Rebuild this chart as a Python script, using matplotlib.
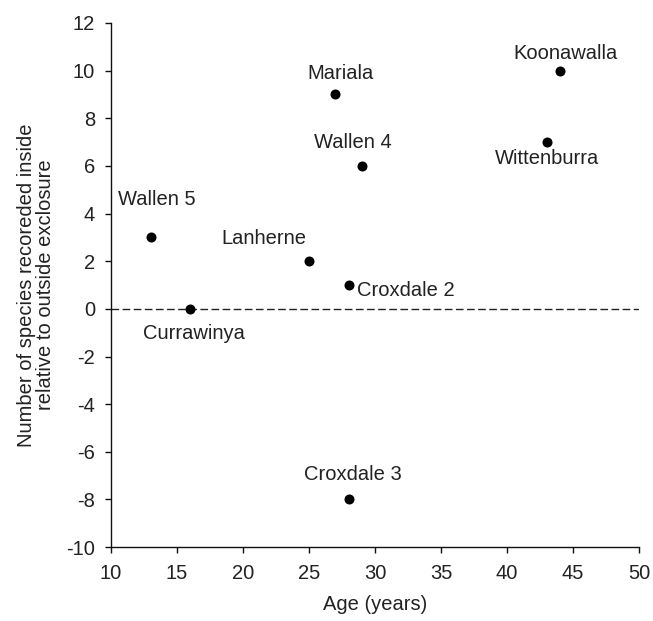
import numpy as np
import matplotlib
matplotlib.use("Agg")
import matplotlib.pyplot as plt

plt.rcParams['font.family'] = ['Liberation Sans', 'DejaVu Sans']
plt.rcParams['axes.unicode_minus'] = False

# sites, age (years) and species difference inside vs outside
sites = ["Wallen 5", "Currawinya", "Lanherne", "Mariala", "Croxdale 2",
         "Croxdale 3", "Wallen 4", "Wittenburra", "Koonawalla"]
age = [13, 16, 25, 27, 28, 28, 29, 43, 44]
species_diff = [3, 0, 2, 9, 1, -8, 6, 7, 10]

# where each label sits (data coords, text centre)
label_x = [13.5, 16.3, 21.6, 27.35, 32.3, 28.3, 28.3, 43.0, 44.4]
label_y = [4.6, -1.03, 2.97, 9.9, 0.78, -6.95, 7.0, 6.33, 10.7]

txt = '#222222'

fig = plt.figure(figsize=(6.53, 6.21), dpi=100)
ax = fig.add_axes([0.170, 0.119, 0.8086, 0.844])

ax.axhline(0, color='#222222', linewidth=1.0, linestyle=(0, (5.5, 2.5)), zorder=1)
ax.scatter(age, species_diff, s=52, color='black', zorder=3, linewidths=0)

for name, lx, ly in zip(sites, label_x, label_y):
    ax.text(lx, ly, name, ha='center', va='center', fontsize=14.5, color=txt)

ax.set_xlim(10, 50)
ax.set_ylim(-10, 12)
ax.set_xticks(np.arange(10, 51, 5))
ax.set_yticks(np.arange(-10, 13, 2))

for side in ['top', 'right']:
    ax.spines[side].set_visible(False)
for side in ['left', 'bottom']:
    ax.spines[side].set_linewidth(1.0)
    ax.spines[side].set_color('#111111')

ax.tick_params(axis='both', direction='out', length=4.5, width=1.0,
               color='#111111', labelsize=14.5, labelcolor=txt)
ax.tick_params(axis='x', pad=8)
ax.tick_params(axis='y', pad=7)

ax.set_xlabel("Age (years)", fontsize=14.5, color=txt, labelpad=8)
ax.set_ylabel("Number of species recoreded inside\nrelative to outside exclosure",
              fontsize=14.5, color=txt, labelpad=8, linespacing=1.0)

fig.savefig("out.png", dpi=100)
